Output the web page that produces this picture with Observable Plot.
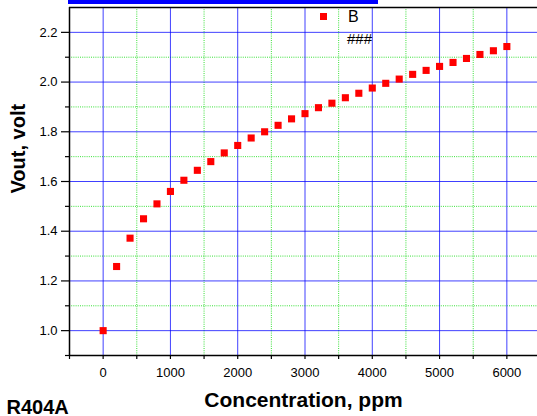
<!DOCTYPE html>
<html><head><meta charset="utf-8">
<script src="https://cdn.jsdelivr.net/npm/d3@7"></script>
<script src="https://cdn.jsdelivr.net/npm/@observablehq/plot@0.6"></script>
<style>
body{margin:0;background:#fff;}
#wrap{position:relative;width:537px;height:416px;overflow:hidden;font-family:"Liberation Sans",Arial,sans-serif;}
.ov{position:absolute;line-height:1;white-space:pre;color:#000;}
</style></head><body><div id="wrap"></div>
<script>
const concentration = [0,200,400,600,800,1000,1200,1400,1600,1800,2000,2200,2400,2600,2800,3000,3200,3400,3600,3800,4000,4200,4400,4600,4800,5000,5200,5400,5600,5800,6000];
const vout = [1.0,1.258,1.372,1.45,1.51,1.56,1.605,1.645,1.68,1.715,1.745,1.775,1.80,1.826,1.852,1.873,1.897,1.915,1.937,1.955,1.976,1.995,2.012,2.031,2.047,2.063,2.079,2.095,2.111,2.126,2.143];
const xMajorTicks = [0,1000,2000,3000,4000,5000,6000];
const xMinorTicks = [-500,500,1500,2500,3500,4500,5500];
const yMajorTicks = [1.0,1.2,1.4,1.6,1.8,2.0,2.2];
const yMinorTicks = [0.9,1.1,1.3,1.5,1.7,1.9,2.1];
const seriesName = "B";
const legendNote = "###";
const xTitle = "Concentration, ppm";
const yTitle = "Vout, volt";
const sampleName = "R404A";

const data = concentration.map((c, i) => ({c, v: vout[i]}));
const green = {stroke: "#22dd22", strokeOpacity: 0.9, strokeDasharray: "1,1.2"};
const blue = {stroke: "#0000ff", strokeOpacity: 0.75};
const bold = {fontWeight: "bold", fill: "black"};

const plot = Plot.plot({
  width: 537, height: 416,
  marginLeft: 69, marginRight: 0, marginTop: 7, marginBottom: 61,
  style: {fontFamily: "Liberation Sans, Arial, sans-serif", background: "transparent"},
  x: {domain: [-500, 6500], range: [69, 540], label: null},
  y: {domain: [0.9, 2.3], range: [355, 7], label: null},
  marks: [
    Plot.gridX(xMinorTicks, green),
    Plot.gridY(yMinorTicks, green),
    Plot.gridX(xMajorTicks, blue),
    Plot.gridY(yMajorTicks, blue),
    Plot.ruleX([-500], {stroke: "black", strokeWidth: 1.5}),
    Plot.ruleY([0.9], {stroke: "black", strokeWidth: 1.5}),
    Plot.ruleY([2.3], {stroke: "black", strokeWidth: 1.5}),
    Plot.axisX(xMinorTicks, {tickSize: 4, tickFormat: () => "", strokeWidth: 1.2}),
    Plot.axisX(xMajorTicks, {tickSize: 4, tickPadding: 8, fontSize: 13, tickFormat: d => String(d), strokeWidth: 1.2}),
    Plot.axisY(yMinorTicks, {tickSize: 4, tickFormat: () => "", strokeWidth: 1.2}),
    Plot.axisY(yMajorTicks, {tickSize: 8, tickPadding: 4, fontSize: 13, tickFormat: d3.format(".1f"), strokeWidth: 1.2}),
    Plot.dot(data, {x: "c", y: "v", symbol: "square", r: 4, fill: "#ff0000", stroke: "none"}),
    Plot.text([xTitle], {frameAnchor: "bottom", dy: 51, fontSize: 21, ...bold}),
    Plot.text([yTitle], {frameAnchor: "left", rotate: -90, dx: -51, dy: 12, fontSize: 20, ...bold}),
    Plot.text([sampleName], {frameAnchor: "bottom-left", textAnchor: "start", dx: -63, dy: 58, fontSize: 20, ...bold})
  ]
});
const wrap = document.getElementById("wrap");
wrap.appendChild(plot);

const bar = document.createElement("div");
bar.style.cssText = "position:absolute;left:68px;top:0;width:310px;height:4px;background:#0000ff;";
wrap.appendChild(bar);
const sq = document.createElement("div");
sq.style.cssText = "position:absolute;left:320px;top:13px;width:7px;height:7px;background:#ff0000;";
wrap.appendChild(sq);
const b = document.createElement("div");
b.className = "ov"; b.textContent = seriesName;
b.style.cssText += "left:348px;top:9px;font-size:16px;";
wrap.appendChild(b);
const n = document.createElement("div");
n.className = "ov"; n.textContent = legendNote;
n.style.cssText += "left:347px;top:31px;font-size:15px;";
wrap.appendChild(n);
</script></body></html>
